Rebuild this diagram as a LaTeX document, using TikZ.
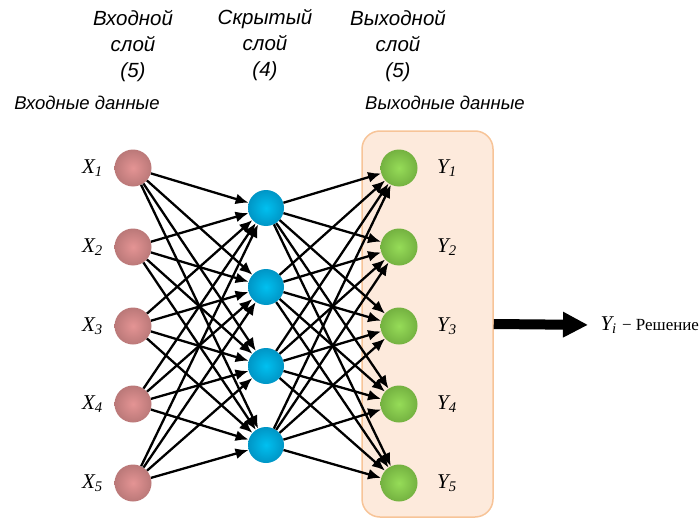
\documentclass[tikz,border=0pt]{standalone}
\usepackage{fontspec}
\setmainfont{Liberation Serif}
\setsansfont{Liberation Sans}
\usetikzlibrary{arrows.meta,positioning}

\definecolor{inpIn}{RGB}{228,148,148}
\definecolor{inpOut}{RGB}{150,96,96}
\definecolor{hidIn}{RGB}{0,192,240}
\definecolor{hidOut}{RGB}{0,112,160}
\definecolor{outIn}{RGB}{150,220,88}
\definecolor{outOut}{RGB}{86,140,44}
\definecolor{boxFill}{RGB}{253,234,220}
\definecolor{boxLine}{RGB}{247,196,152}

\pgfdeclareradialshading{inball}{\pgfpoint{0bp}{0bp}}{color(0bp)=(inpIn); color(47bp)=(inpOut); color(50bp)=(inpOut)}
\pgfdeclareradialshading{hidball}{\pgfpoint{0bp}{0bp}}{color(0bp)=(hidIn); color(47bp)=(hidOut); color(50bp)=(hidOut)}
\pgfdeclareradialshading{outball}{\pgfpoint{0bp}{0bp}}{color(0bp)=(outIn); color(47bp)=(outOut); color(50bp)=(outOut)}

\tikzset{
  neuron/.style={circle, minimum size=37pt, inner sep=0pt},
  innode/.style={neuron, shading=inball},
  hidnode/.style={neuron, minimum size=36pt, shading=hidball},
  outnode/.style={neuron, shading=outball},
  link/.style={line width=2.3pt, -{Latex[length=13pt,width=11pt]}},
  layertitle/.style={font=\sffamily\itshape\fontsize{20.5}{26}\selectfont, align=center},
  datatitle/.style={font=\sffamily\itshape\fontsize{18.5}{20}\selectfont},
  varlab/.style={font=\itshape\fontsize{21}{24}\selectfont},
}

\begin{document}
\begin{tikzpicture}[x=1pt, y=-1pt]
  \useasboundingbox (0,0) rectangle (699,519);

  % output block
  \node[draw=boxLine, fill=boxFill, line width=1.5pt, rounded corners=18pt,
        minimum width=131pt, minimum height=386pt] (box) at (427.5,324) {};

  % titles
  \node[layertitle] at (133,46) {Входной\\слой\\(5)};
  \node[layertitle] at (265,45) {Скрытый\\слой\\(4)};
  \node[layertitle] at (398,46) {Выходной\\слой\\(5)};
  \node[datatitle] at (87,103) {Входные данные};
  \node[datatitle] at (445,103) {Выходные данные};

  % input layer
  \node[innode] (x1) at (133,168) {};
  \node[innode] (x2) at (133,247) {};
  \node[innode] (x3) at (133,326) {};
  \node[innode] (x4) at (133,404) {};
  \node[innode] (x5) at (133,483) {};

  % hidden layer
  \node[hidnode] (h1) at (266,208) {};
  \node[hidnode] (h2) at (266,287) {};
  \node[hidnode] (h3) at (266,366) {};
  \node[hidnode] (h4) at (266,445) {};

  % output layer
  \node[outnode] (y1) at (399,168) {};
  \node[outnode] (y2) at (399,247) {};
  \node[outnode] (y3) at (399,326) {};
  \node[outnode] (y4) at (399,404) {};
  \node[outnode] (y5) at (399,483) {};

  \foreach \i in {1,...,5}{
    \node[varlab, left=8pt of x\i] {X\textsubscript{\i}};
    \node[varlab, right=16pt of y\i] {Y\textsubscript{\i}};
  }

  \foreach \i in {1,...,5}
    \foreach \j in {1,...,4}{
      \draw[link] (x\i) -- (h\j);
      \draw[link] (h\j) -- (y\i);
    }

  % decision
  \node[varlab, anchor=west] (res) at (597,325) {Y\textsubscript{i} {\upshape\fontsize{17}{20}\selectfont − Решение}};
  \draw[line width=10pt, -{Triangle[length=25pt,width=24pt]}, shorten >=9pt] (box.east) -- (res.west);
\end{tikzpicture}
\end{document}
